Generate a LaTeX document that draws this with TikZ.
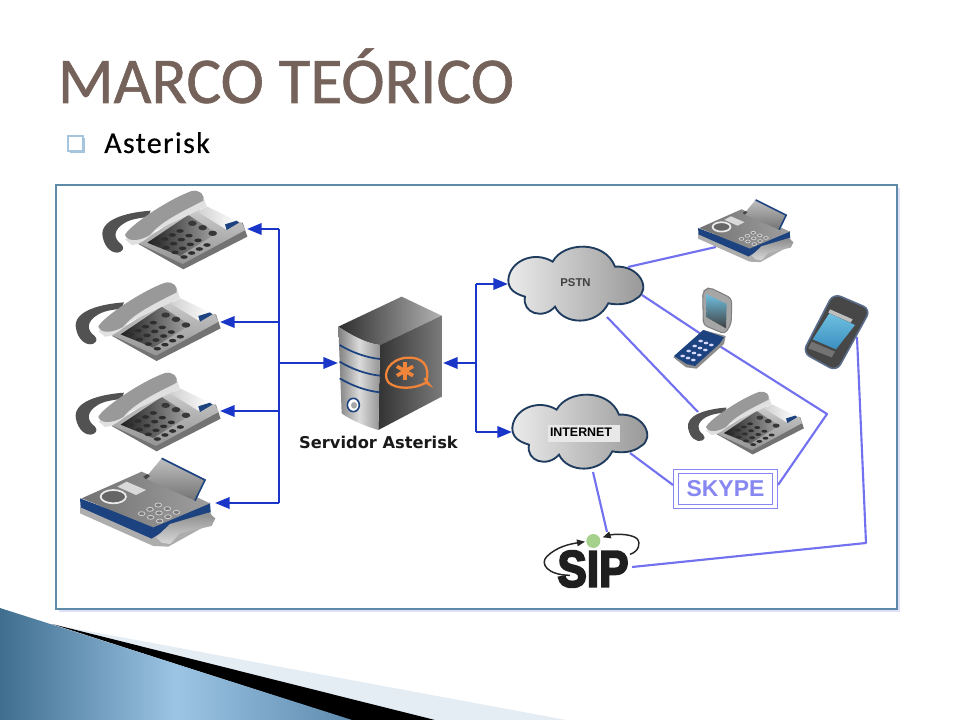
\documentclass[tikz,border=0pt]{standalone}
\usepackage{fontspec}
\setmainfont{Carlito}
\newfontfamily\titlefont[FakeBold=0.9]{Carlito}
\newfontfamily\subfont[FakeBold=0.35,LetterSpace=4.5]{Carlito}
\newfontfamily\labelfont{Liberation Sans}
\newfontfamily\servfont{DejaVu Sans}
\newfontfamily\sipfont[BoldFeatures={FakeBold=4}]{Liberation Sans}
\usetikzlibrary{arrows.meta,calc}
\definecolor{busblue}{HTML}{1A36C8}
\definecolor{linkblue}{HTML}{7272F0}
\definecolor{navy}{HTML}{1C437F}
\definecolor{titlebrown}{HTML}{75625A}
\definecolor{framecol}{HTML}{5E8BA8}
\definecolor{ast}{HTML}{F0853A}
\definecolor{decodark}{HTML}{3F6E8F}
\definecolor{decolight}{HTML}{9CC4E4}
\definecolor{decomid}{HTML}{5E8BAE}
\definecolor{decopale}{HTML}{E4ECF4}
\definecolor{bulletcol}{HTML}{A5C4DE}
\definecolor{screenhi}{HTML}{6FC0E0}
\definecolor{screenlo}{HTML}{3A8FC0}
\definecolor{cloudedge}{HTML}{1F3C5F}
\tikzset{
  busline/.style={draw=busblue,line width=1.9pt,rounded corners=2.5pt},
  busarrow/.style={busline,-{Triangle[length=11pt,width=8.5pt]}},
  linkline/.style={draw=linkblue,line width=1.6pt,line join=round},
  cloudbody/.style={draw=cloudedge,line width=1.4pt,left color=black!8,right color=black!42},
  phone/.pic={
    \fill[black!55] (235,192)--(370,268)--(562,170)--(548,128)--cycle;
    \shade[top color=black!20,bottom color=black!42] (235,190)--(400,85)--(545,128)--(556,150)--(368,252)--cycle;
    \shade[left color=black!88,right color=black!35] (262,188)--(385,105)--(470,160)--(360,228)--cycle;
    \shade[left color=black!18,right color=white] (412,95)--(442,80)--(535,125)--(498,148)--cycle;
    \fill[navy] (495,133)--(530,122)--(537,128)--(500,150)--cycle;
    \foreach \bx/\by in {397/130,428/143,458/160}
      \fill[black!78] (\bx,\by) circle[x radius=13,y radius=8];
    \foreach \i in {0,1,2,3} \foreach \j in {0,1,2,3}
      \fill[black!82] ({360-23*\i+27*\j},{153+12*\i+14*\j}) circle[x radius=11,y radius=5.5];
    \fill[black!68] (272,92) .. controls (190,98) and (118,122) .. (128,170) .. controls (134,205) and (160,224) .. (180,216)
       .. controls (194,208) and (190,200) .. (184,193) .. controls (160,175) and (158,150) .. (195,128) .. controls (220,114) and (250,114) .. (265,110)--cycle;
    \fill[black!12] (195,178) .. controls (240,160) and (300,100) .. (430,50) -- (440,80) -- (290,150) .. controls (270,170) and (240,195) .. (215,195) --cycle;
    \fill[black!40] (195,165) .. controls (205,140) and (320,60) .. (395,33) .. controls (420,28) and (435,45) .. (430,62)
       .. controls (375,90) and (300,125) .. (270,165) .. controls (245,180) and (205,190) .. (195,165) --cycle;
  },
  fax/.pic={
    \fill[black!32] (30,170)--(30,190)--(250,288)--(295,290)--(430,215)--(420,180)--cycle;
    \fill[navy] (30,145)--(32,172)--(245,266)--(270,250)--(422,186)--(420,158)--(250,228)--cycle;
    \shade[left color=black!55,right color=black!38] (35,145)--(215,65)--(420,160)--(250,232)--cycle;
    \shade[top color=black!25,bottom color=black!55] (225,85)--(275,25)--(405,90)--(375,152)--cycle;
    \draw[navy,line width=1.2pt] (275,25)--(405,90)--(375,152);
    \fill[black!72] (220,80)--(232,72)--(240,78)--(228,88)--cycle;
    \filldraw[draw=black!8,fill=black!60,line width=1.3pt] (130,140) circle[x radius=38,y radius=20];
    \fill[black!15] (142,110)--(170,95)--(228,120)--(198,135)--cycle;
    \foreach \i in {0,1,2} \foreach \j in {0,1,2}
      \filldraw[draw=black!18,fill=black!52,line width=.6pt] ({265-25*\i+27*\j},{165+13*\i+11*\j}) circle[x radius=10,y radius=6];
    \shade[top color=black!45,bottom color=black!15] (258,262)--(300,222)--(415,188)--(436,205)--(425,228)--(330,250)--(300,282)--(275,278)--cycle;
  }
}
\begin{document}
\begin{tikzpicture}[x=0.75pt,y=-0.75pt]
\useasboundingbox (0,0) rectangle (960,720);
\fill[white] (0,0) rectangle (960,720);

% --- slide decoration
\fill[decopale] (50,624)--(566,720)--(350,720)--cycle;
\fill[black] (52,624)--(435,720)--(350,720)--cycle;
\shade[left color=decodark,right color=decomid,middle color=decolight]
  (0,608)--(352,720)--(0,720)--cycle;

% --- title
\node[anchor=base west,inner sep=0pt,text=titlebrown,font=\titlefont\fontsize{49}{52}\selectfont] (title) at (57.5,103) {MARCO TEÓRICO};
\node[anchor=base west,inner sep=0pt,text=black,font=\subfont\fontsize{22.5}{25}\selectfont] (sub) at (104,153) {Asterisk};
\fill[bulletcol] (70,138) rectangle (85,153);
\fill[white] (69,137) rectangle (82,150);
\draw[bulletcol,line width=.9pt] (68,136) rectangle (83,151);

% --- picture frame
\fill[black!22!blue!12] (59,188) rectangle (900,612);
\filldraw[draw=framecol,fill=white,line width=.9pt] (56,185) rectangle (897,609);

% --- clouds and labels
\def\cloudpath{(85,270) .. controls (88,215) and (160,180) .. (218,215)
   .. controls (250,155) and (375,150) .. (405,230)
   .. controls (480,225) and (515,300) .. (470,325) .. controls (445,345) and (410,345) .. (385,340)
   .. controls (350,410) and (250,405) .. (225,350)
   .. controls (190,390) and (125,370) .. (135,320)
   .. controls (100,310) and (85,295) .. (85,270) -- cycle}
\begin{scope}[shift={(480,190)},scale=1/3]
  \path[cloudbody] \cloudpath;
\end{scope}
\begin{scope}[shift={(484,338)},scale=1/3]
  \path[cloudbody] \cloudpath;
\end{scope}
\node[font=\labelfont\bfseries\fontsize{8.5}{10}\selectfont,text=black!75,inner sep=1pt] (pstn) at (575.5,283) {PSTN};
\fill[black!9] (548,425) rectangle (620,442);
\node[font=\labelfont\bfseries\fontsize{9.3}{11}\selectfont,text=black,inner sep=1pt] (internet) at (581,432.5) {INTERNET};

% --- connector end points
\coordinate (tp1) at (247,229);
\coordinate (tp2) at (220,322);
\coordinate (tp3) at (220,411);
\coordinate (tfax) at (215,503);
\coordinate (corner1) at (279,229);
\coordinate (corner4) at (279,503);
\coordinate (j2) at (279,322);
\coordinate (j3) at (279,411);
\coordinate (jm) at (279,363);
\coordinate (srvL) at (338,363);
\coordinate (srvR) at (443,363);
\coordinate (jr) at (476,363);
\coordinate (rt) at (476,284);
\coordinate (rb) at (476,432);
\coordinate (cp) at (508,284);
\coordinate (ci) at (512,432);
\coordinate (pF) at (628,267);
\coordinate (faxS) at (716,247);
\coordinate (pM) at (642,295);
\coordinate (pP) at (607,317);
\coordinate (flip) at (710,340);
\coordinate (kneeA) at (827,414);
\coordinate (skR) at (778,485);
\coordinate (skL) at (673,485);
\coordinate (iS) at (630,453);
\coordinate (iSip) at (593,472);
\coordinate (sipT) at (607,532);
\coordinate (sipR) at (632,567);
\coordinate (kneeB) at (866,543);
\coordinate (smart) at (857,337);
\coordinate (ph4) at (698,412);

% --- connectors
\draw[busarrow] (corner1) -- (tp1);
\draw[busline] (corner1) -- (corner4);
\draw[busarrow] (corner4) -- (tfax);
\draw[busarrow] (j2) -- (tp2);
\draw[busarrow] (j3) -- (tp3);
\draw[busarrow] (jm) -- (srvL);
\draw[busarrow] (jr) -- (srvR);
\draw[busline] (rt) -- (rb);
\draw[busarrow] (rt) -- (cp);
\draw[busarrow] (rb) -- (ci);
\draw[linkline] (pF) -- (faxS);
\draw[linkline] (pM) -- (flip) -- (kneeA) -- (skR);
\draw[linkline] (pP) -- (ph4);
\draw[linkline] (iS) -- (skL);
\draw[linkline] (iSip) -- (sipT);
\draw[linkline] (sipR) -- (kneeB) -- (smart);

% --- desk phones and faxes
\pic[scale=1/3] at (60,180) {phone};
\pic[scale=1/3] at (33.3,271.7) {phone};
\pic[scale=1/3] at (33.3,362) {phone};
\pic[scale=.2667] at (654,383) {phone};
\pic[scale=1/3] at (70,450) {fax};
\pic[scale=.235] at (691,194) {fax};

% --- server
\begin{scope}[shift={(325,285)},scale=1/3]
  \shade[left color=black!82,right color=black!30] (40,125)--(230,35)--(350,92)--(165,180) .. controls (120,175) and (70,145) .. (40,125) --cycle;
  \shade[left color=black!80,right color=black!52] (165,180)--(350,92)--(350,335)--(160,435)--cycle;
  \shade[left color=black!50,right color=black!42,middle color=black!14]
     (40,125) .. controls (70,145) and (120,175) .. (165,180) -- (160,435) .. controls (110,420) and (70,400) .. (50,385) --cycle;
  \foreach \sy in {180,230,280}
    \draw[navy,line width=1.3pt] (44,\sy) .. controls (80,{\sy+22}) and (125,{\sy+38}) .. (165,{\sy+42});
  \filldraw[draw=navy,fill=white,line width=1.2pt] (85,360) circle[x radius=18,y radius=20];
  \fill[black!35] (87,361) circle[x radius=9,y radius=10];
  \draw[ast,line width=1.7pt] (303,293) .. controls (318,240) and (290,215) .. (245,218)
     .. controls (195,222) and (170,265) .. (190,292) .. controls (215,315) and (270,312) .. (303,293)
     -- (312,298) -- (298,280);
  \foreach \a in {30,90,150}
    \draw[ast,line width=2.7pt] ($(240,258)+(\a:28)$) -- ($(240,258)+(\a+180:28)$);
\end{scope}
\node[font=\servfont\bfseries\fontsize{12.2}{15}\selectfont,text=black!90,inner sep=0pt] (srvlabel) at (378.5,442) {Servidor Asterisk};

% --- flip phone
\begin{scope}[shift={(660,280)},scale=1/3]
  \filldraw[draw=black!50,fill=black!35,line width=.8pt,rounded corners=3pt] (128,35)--(148,22)--(215,55)--(214,130)--(195,162)--(130,135)--cycle;
  \shade[top color=screenhi,bottom color=black!75] (138,42)--(200,72)--(198,145)--(140,112)--cycle;
  \fill[black!45] (40,232)--(130,150)--(197,168)--(192,192)--(110,266)--(78,262)--cycle;
  \fill[navy] (42,228)--(130,150)--(192,172)--(180,190)--(105,258)--(80,252)--cycle;
  \foreach \i in {0,1,2,3} \foreach \j in {0,1,2}
    \fill[white!85!blue] ({122-18*\i+16*\j},{183+15*\i+6*\j}) circle[x radius=7,y radius=4];
\end{scope}

% --- smartphone
\begin{scope}[shift={(660,280)},scale=1/3]
  \filldraw[draw=navy!70!black!70,fill=black!72,line width=1.2pt,rounded corners=6pt] (520,40)--(632,88)--(530,274)--(428,218)--cycle;
  \shade[top color=screenhi,bottom color=screenlo] (508,100)--(585,135)--(528,208)--(458,178)--cycle;
  \fill[black!25] (510,88)--(578,118)--(572,128)--(505,98)--cycle;
  \fill[black!55] (455,185)--(525,215)--(515,232)--(445,205)--cycle;
\end{scope}

% --- SKYPE
\node[draw=linkblue!85!white,double=white,double distance=2.6pt,line width=.8pt,minimum width=74pt,minimum height=26pt,inner sep=0pt,
      font=\labelfont\bfseries\fontsize{17.2}{20}\selectfont,text=linkblue!85!white] (skype) at (725.5,489) {SKYPE};

% --- SIP
\begin{scope}[shift={(530,520)},scale=1/3]
  \coordinate (sa) at (165,65);
  \coordinate (sb) at (218,52);
  \draw[black!85,line width=1.1pt,-{Triangle[length=6pt,width=5pt]}] (120,166) .. controls (50,165) and (30,130) .. (50,110) .. controls (80,80) and (120,72) .. (sa);
  \draw[black!85,line width=1.1pt,-{Triangle[length=6pt,width=5pt]}] (300,103) .. controls (325,95) and (335,70) .. (320,55) .. controls (300,40) and (250,42) .. (sb);
  \fill[green!50!lime!60!black!45] (190,63) circle[radius=21];
\end{scope}
\node[font=\sipfont\bfseries\fontsize{38.5}{40}\selectfont,text=black!88,xscale=.86,inner sep=0pt] (sip) at (593,569) {SIP};
\end{tikzpicture}
\end{document}
